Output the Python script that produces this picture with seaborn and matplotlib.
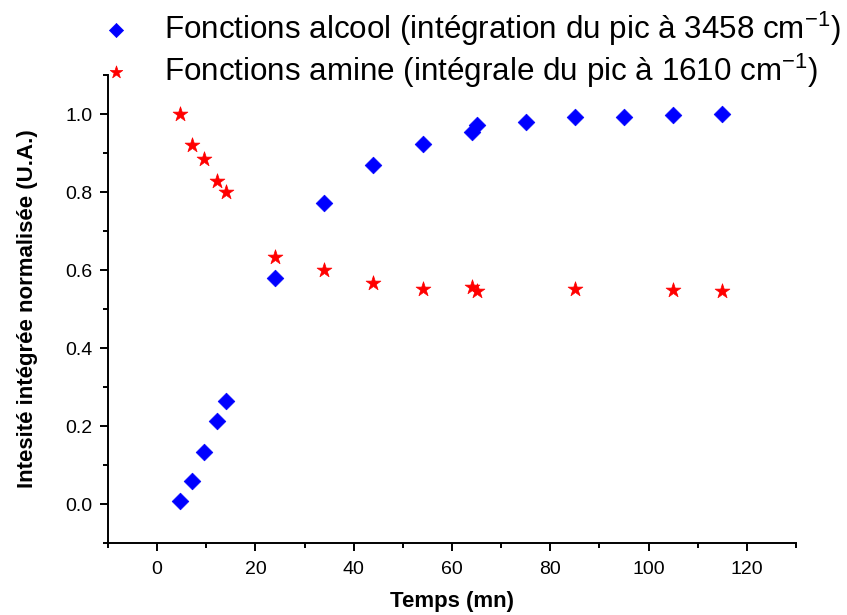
import matplotlib
matplotlib.use("Agg")
import matplotlib.pyplot as plt
from matplotlib.ticker import MultipleLocator
import seaborn as sns

# données
temps_alcool = [4.6, 7.1, 9.6, 12.1, 14.0, 24, 34, 44, 54, 64, 65, 75, 85, 95, 105, 115]
alcool = [0.008, 0.060, 0.133, 0.212, 0.264, 0.580, 0.773, 0.869, 0.923, 0.953,
          0.972, 0.979, 0.992, 0.993, 0.997, 1.0]

temps_amine = [4.6, 7.1, 9.6, 12.1, 14.0, 24, 34, 44, 54, 64, 65, 85, 105, 115]
amine = [1.0, 0.920, 0.884, 0.829, 0.800, 0.633, 0.600, 0.567, 0.552, 0.556,
         0.546, 0.551, 0.550, 0.545]

label_alcool = r"Fonctions alcool (intégration du pic à 3458 cm$^{\mathsf{-1}}$)"
label_amine = r"Fonctions amine (intégrale du pic à 1610 cm$^{\mathsf{-1}}$)"

x_ticks = [0, 20, 40, 60, 80, 100, 120]
y_ticks = [0.0, 0.2, 0.4, 0.6, 0.8, 1.0]

sns.set_style("ticks")
plt.rcParams["font.family"] = ["Liberation Sans", "DejaVu Sans"]
plt.rcParams["mathtext.fontset"] = "custom"
plt.rcParams["mathtext.rm"] = "Liberation Sans"
plt.rcParams["mathtext.sf"] = "Liberation Sans"
plt.rcParams["text.color"] = "black"
plt.rcParams["axes.labelcolor"] = "black"

fig = plt.figure(figsize=(8.47, 6.15), dpi=100)
ax = fig.add_axes([0.1275, 0.117, 0.8123, 0.761])

sns.scatterplot(x=temps_alcool, y=alcool, ax=ax, marker="D", s=72,
                color="#0000ff", edgecolor="#0000ff", linewidth=0.5,
                label=label_alcool)
sns.scatterplot(x=temps_amine, y=amine, ax=ax, marker="*", s=125,
                color="#ff0000", edgecolor="#ff0000", linewidth=0.5,
                label=label_amine)

ax.set_xlim(-10, 130)
ax.set_ylim(-0.1, 1.1)
ax.set_xticks(x_ticks)
ax.set_yticks(y_ticks)
ax.set_yticklabels([f"{v:.1f}" for v in y_ticks])
ax.xaxis.set_minor_locator(MultipleLocator(10))
ax.yaxis.set_minor_locator(MultipleLocator(0.1))

for s in ["top", "right"]:
    ax.spines[s].set_visible(False)
for s in ["left", "bottom"]:
    ax.spines[s].set_linewidth(1.4)
    ax.spines[s].set_color("black")

ax.tick_params(which="major", direction="out", length=6, width=1.4,
               labelsize=14, colors="black")
ax.tick_params(which="minor", direction="out", length=3.8, width=1.4,
               colors="black")
ax.tick_params(axis="x", which="major", pad=7)
ax.tick_params(axis="y", which="major", pad=5)

ax.set_xlabel("Temps (mn)", fontsize=16, fontweight="bold", labelpad=9)
ax.set_ylabel("Intesité intégrée normalisée (U.A.)", fontsize=16,
              fontweight="bold", labelpad=20)

handles, labels = ax.get_legend_handles_labels()
ax.get_legend().remove()
fig.legend(handles, labels, loc="upper left", bbox_to_anchor=(0.119, 0.985),
           frameon=False, fontsize=22.6, handlelength=1.0, handletextpad=1.0,
           labelspacing=0.12, borderpad=0, borderaxespad=0, markerscale=0.85)

fig.savefig("out.png", dpi=100)
